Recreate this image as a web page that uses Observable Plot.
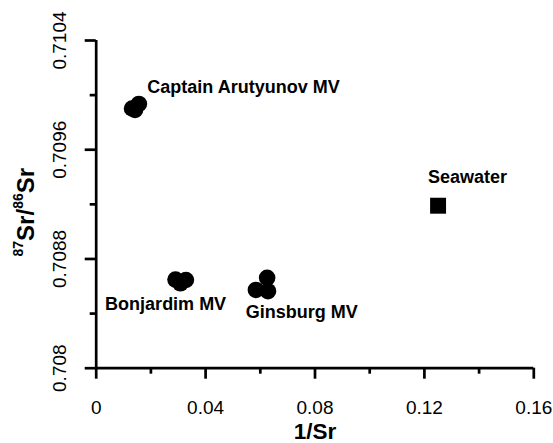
<!DOCTYPE html>
<html><head><meta charset="utf-8">
<script src="https://cdn.jsdelivr.net/npm/d3@7"></script>
<script src="https://cdn.jsdelivr.net/npm/@observablehq/plot@0.6"></script>
<style>
html,body{margin:0;padding:0;background:#fff;}
#chart{width:553px;height:443px;}
</style></head><body><div id="chart"></div>
<script>
// Strontium isotope ratio versus inverse Sr concentration, mud volcano fluids and seawater
const groups = ["Captain Arutyunov MV", "Bonjardim MV", "Ginsburg MV", "Seawater"];

const captainX = [0.0131, 0.0142, 0.0156];
const captainY = [0.709902, 0.709891, 0.709935];
const bonjardimX = [0.0290, 0.0328, 0.0308];
const bonjardimY = [0.708649, 0.708646, 0.708622];
const ginsburgX = [0.0625, 0.0584, 0.0628];
const ginsburgY = [0.708662, 0.708573, 0.708564];
const seawaterX = [0.125];
const seawaterY = [0.70919];

const xMajor = [0, 0.04, 0.08, 0.12, 0.16];
const xMinor = [0.02, 0.06, 0.10, 0.14];
const yMajor = [0.708, 0.7088, 0.7096, 0.7104];
const yMinor = [0.7084, 0.7092, 0.7100];
const yTickLabels = ["0.708", "0.7088", "0.7096", "0.7104"];

const series = [
  {group: groups[0], xs: captainX, ys: captainY},
  {group: groups[1], xs: bonjardimX, ys: bonjardimY},
  {group: groups[2], xs: ginsburgX, ys: ginsburgY},
  {group: groups[3], xs: seawaterX, ys: seawaterY}
];
const points = series.flatMap(s => s.xs.map((x, i) => ({group: s.group, x, y: s.ys[i]})));
const centroids = series.map(s => ({
  group: s.group,
  x: d3.mean(s.xs),
  y: d3.mean(s.ys)
}));

// label placement relative to each group's centre (pixels)
const labelStyle = {
  "Captain Arutyunov MV": {dx: 12, dy: -20, textAnchor: "start"},
  "Bonjardim MV": {dx: -15, dy: 23, textAnchor: "middle"},
  "Ginsburg MV": {dx: -18, dy: 26, textAnchor: "start"},
  "Seawater": {dx: -10, dy: -28.7, textAnchor: "start"}
};

const font = "'Liberation Sans', Arial, sans-serif";
const axisW = 2.7;

const chart = Plot.plot({
  width: 553,
  height: 443,
  marginLeft: 95.7,
  marginRight: 19.7,
  marginTop: 40,
  marginBottom: 75.3,
  style: {fontFamily: font, fontSize: "19px", background: "#fff", color: "#000", overflow: "visible"},
  x: {domain: [0, 0.16]},
  y: {domain: [0.708, 0.7104]},
  marks: [
    Plot.axisX(xMinor, {tickSize: 6, tickFormat: () => "", strokeWidth: axisW, label: null}),
    Plot.axisX(xMajor, {tickSize: 11, tickPadding: 21, strokeWidth: axisW, fontSize: 19, label: null,
      tickFormat: d => d === 0 ? "0" : String(d)}),
    Plot.axisY(yMinor, {tickSize: 6, tickFormat: () => "", strokeWidth: axisW, label: null}),
    Plot.axisY(yMajor, {tickSize: 11, tickFormat: () => "", strokeWidth: axisW, label: null}),
    Plot.text(yMajor, {y: d => d, text: (d, i) => yTickLabels[i], frameAnchor: "left", rotate: -90,
      textAnchor: "middle", lineAnchor: "bottom", dx: -30.7, fontSize: 19}),
    Plot.ruleX([0], {strokeWidth: axisW}),
    Plot.ruleY([0.708], {strokeWidth: axisW}),
    Plot.dot(points.filter(d => d.group !== "Seawater"), {x: "x", y: "y", r: 8.3, fill: "#000", stroke: "none"}),
    Plot.dot(points.filter(d => d.group === "Seawater"), {x: "x", y: "y", r: 9, symbol: "square", fill: "#000", stroke: "none"}),
    ...centroids.map(c => Plot.text([c], {
      x: "x", y: "y", text: "group", fontSize: 18, fontWeight: "bold", ...labelStyle[c.group]
    })),
    Plot.text(["1/Sr"], {frameAnchor: "bottom", lineAnchor: "bottom", dy: 70.3, fontSize: 22.5, fontWeight: "bold"}),
    Plot.text(["87Sr/86Sr"], {frameAnchor: "left", rotate: -90, textAnchor: "middle", lineAnchor: "bottom",
      dx: -62.4, dy: 7.85, fontSize: 24, fontWeight: "bold"})
  ]
});

// isotope mass numbers as superscripts
d3.select(chart).selectAll("text").filter(function() { return this.textContent === "87Sr/86Sr"; })
  .each(function() {
    const t = d3.select(this);
    t.text(null);
    const parts = [["87", true], ["Sr/", false], ["86", true], ["Sr", false]];
    let raised = false;
    for (const [s, sup] of parts) {
      const ts = t.append("tspan").text(s);
      if (sup) { ts.attr("font-size", 14).attr("dy", raised ? null : -11); raised = true; }
      else { ts.attr("dy", raised ? 11 : null); raised = false; }
    }
  });

document.getElementById("chart").appendChild(chart);
</script>
</body></html>
